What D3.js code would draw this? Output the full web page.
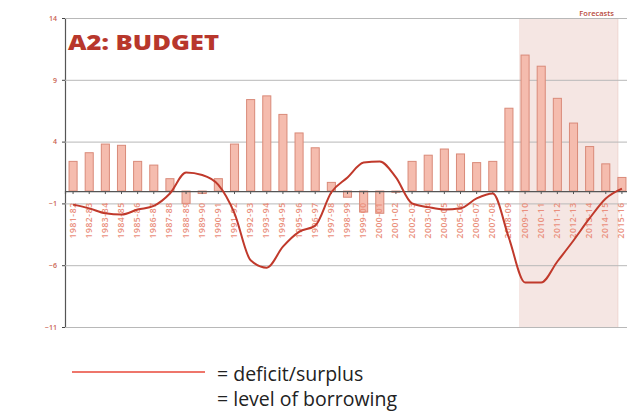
<!DOCTYPE html>
<html>
<head>
<meta charset="utf-8">
<script src="https://cdn.jsdelivr.net/npm/d3@7"></script>
<style>
  body { margin: 0; background: #fff; }
  svg { display: block; }
</style>
</head>
<body>
<div id="chart"></div>
<script>
const years = ['1981-82','1982-83','1983-84','1984-85','1985-86','1986-87','1987-88','1988-89','1989-90','1990-91',
  '1991-92','1992-93','1993-94','1994-95','1995-96','1996-97','1997-98','1998-99','1999-00','2000-01',
  '2001-02','2002-03','2003-04','2004-05','2005-06','2006-07','2007-08','2008-09','2009-10','2010-11',
  '2011-12','2012-13','2013-14','2014-15','2015-16']

// level of borrowing (bars)
const borrowing = [2.4, 3.1, 3.8, 3.7, 2.4, 2.1, 1.0, -1.0, -0.2, 1.0,
  3.8, 7.4, 7.7, 6.2, 4.7, 3.5, 0.7, -0.5, -1.7, -1.8,
  -0.1, 2.4, 2.9, 3.4, 3.0, 2.3, 2.4, 6.7, 11.0, 10.1,
  7.5, 5.5, 3.6, 2.2, 1.1]

// deficit / surplus (line)
const deficit = [-1.1, -1.4, -1.8, -1.9, -1.5, -1.2, -0.2, 1.5, 1.3, 0.5,
  -1.8, -5.6, -6.2, -4.5, -3.3, -2.8, -0.1, 1.1, 2.3, 2.4,
  1.1, -1.0, -1.3, -1.5, -1.4, -0.6, -0.2, -3.8, -7.4, -7.4,
  -5.7, -4.0, -2.2, -0.6, 0.2]

const forecastYears = ['2009-10','2010-11','2011-12','2012-13','2013-14','2014-15']
const yTicks = [14, 9, 4, -1, -6, -11]

const width = 627, height = 417
const plotLeft = 65, plotTop = 18, plotBottom = 327

const svg = d3.select('#chart').append('svg')
  .attr('width', width)
  .attr('height', height)

const x = d3.scaleBand()
  .domain(years)
  .range([plotLeft, 630])
  .paddingInner(0.5)
  .paddingOuter(0.25)

const y = d3.scaleLinear()
  .domain([-11, 14])
  .range([plotBottom, plotTop])

const gap = (x.step() - x.bandwidth()) / 2

// forecast shading
const fx0 = x(forecastYears[0]) - gap + 2
const fx1 = x(forecastYears[forecastYears.length - 1]) + x.bandwidth() + gap + 4
svg.append('rect')
  .attr('x', fx0).attr('y', plotTop)
  .attr('width', fx1 - fx0).attr('height', plotBottom - plotTop)
  .attr('fill', '#f5e6e3')
svg.append('line')
  .attr('x1', fx1).attr('x2', fx1).attr('y1', plotTop).attr('y2', plotBottom)
  .attr('stroke', '#eed5d0').attr('stroke-width', 1)

svg.append('text')
  .attr('x', fx1 - 4).attr('y', 16)
  .attr('text-anchor', 'end')
  .attr('font-family', 'Open Sans, sans-serif')
  .attr('font-size', 7.5)
  .attr('font-weight', 600)
  .attr('fill', '#b84a3c')
  .text('Forecasts')

// grid + y axis
const yAxis = d3.axisLeft(y)
  .tickValues(yTicks)
  .tickSize(-(width - plotLeft))
  .tickPadding(8)

const gy = svg.append('g')
  .attr('transform', `translate(${plotLeft},0)`)
  .call(yAxis)

gy.select('.domain').attr('stroke', '#555').attr('stroke-width', 1.2)
gy.selectAll('.tick line').attr('stroke', '#b8b8b8').attr('stroke-width', 1)
gy.selectAll('.tick text')
  .attr('font-family', 'Open Sans, sans-serif')
  .attr('font-size', 7)
  .attr('font-weight', 600)
  .attr('fill', '#c9604f')
gy.selectAll('.tick').append('line')
  .attr('x1', -3).attr('x2', 0)
  .attr('stroke', '#444')

// bars
svg.append('g')
  .selectAll('rect')
  .data(years)
  .enter()
  .append('rect')
  .attr('x', d => x(d))
  .attr('width', x.bandwidth())
  .attr('y', (d, i) => y(Math.max(0, borrowing[i])))
  .attr('height', (d, i) => Math.abs(y(borrowing[i]) - y(0)))
  .attr('fill', '#f5bcae')
  .attr('stroke', '#d98a79')
  .attr('stroke-width', 1)

// x axis at zero
const xAxis = d3.axisBottom(x).tickSize(3).tickFormat('')
const gx = svg.append('g')
  .attr('transform', `translate(0,${y(0)})`)
  .call(xAxis)
gx.select('.domain').attr('stroke', '#555').attr('stroke-width', 1.2)
gx.selectAll('.tick line').attr('stroke', '#555')

// rotated category labels
svg.append('g')
  .selectAll('text')
  .data(years)
  .enter()
  .append('text')
  .attr('transform', d => `translate(${x(d) + x.bandwidth() / 2 + 2.5},${y(-1) - 1}) rotate(-90)`)
  .attr('text-anchor', 'end')
  .attr('font-family', 'Open Sans, sans-serif')
  .attr('font-size', 8.5)
  .attr('font-weight', 600)
  .attr('letter-spacing', 0.6)
  .attr('fill', '#ea8f7c')
  .text(d => d)

// deficit line
const line = d3.line()
  .x((d, i) => x(years[i]) + x.bandwidth() / 2)
  .y(d => y(d))
  .curve(d3.curveMonotoneX)

svg.append('path')
  .datum(deficit)
  .attr('d', line)
  .attr('fill', 'none')
  .attr('stroke', '#c0392b')
  .attr('stroke-width', 2)
  .attr('stroke-linejoin', 'round')

// title
svg.append('text')
  .attr('x', 68).attr('y', 50)
  .attr('font-family', 'Open Sans, sans-serif')
  .attr('font-size', 21)
  .attr('font-weight', 800)
  .attr('textLength', 151)
  .attr('lengthAdjust', 'spacingAndGlyphs')
  .attr('fill', '#b8372c')
  .text('A2: BUDGET')

// legend
svg.append('line')
  .attr('x1', 72).attr('x2', 205)
  .attr('y1', 372).attr('y2', 372)
  .attr('stroke', '#e8483a').attr('stroke-width', 1.5)

const legendText = ['= deficit/surplus', '= level of borrowing']
svg.append('g')
  .selectAll('text')
  .data(legendText)
  .enter()
  .append('text')
  .attr('x', 217)
  .attr('y', (d, i) => 381 + i * 25)
  .attr('font-family', 'Open Sans, sans-serif')
  .attr('font-size', 19.5)
  .attr('fill', '#222')
  .text(d => d)
</script>
</body>
</html>
